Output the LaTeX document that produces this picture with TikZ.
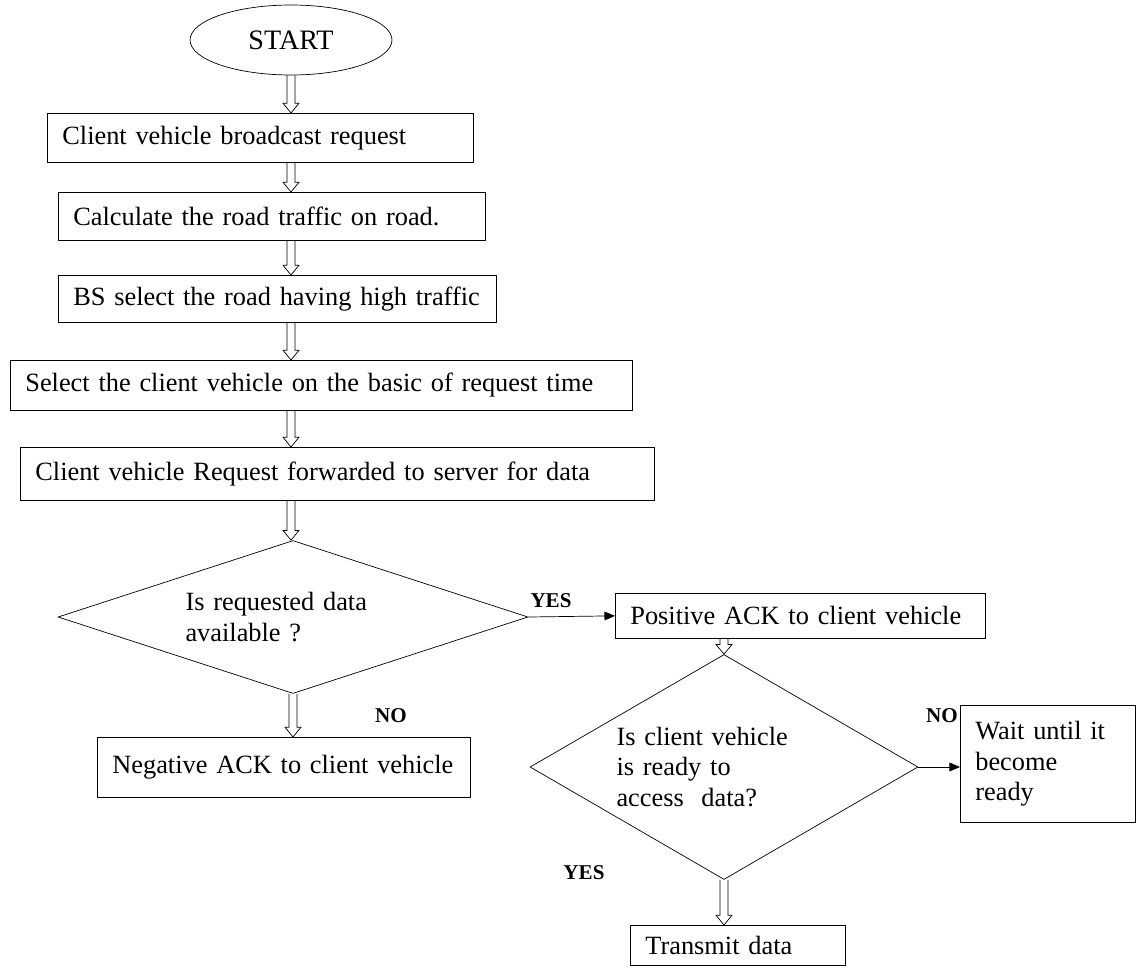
\documentclass[tikz,border=0pt]{standalone}
\usepackage{fontspec}
\setmainfont{Liberation Serif}
\usetikzlibrary{shapes.geometric,arrows.meta,calc}

\tikzset{
  box/.style={draw,rectangle,anchor=north west,inner xsep=0.3cm,align=left,
    font=\fontsize{15}{17.5}\selectfont},
  test/.style={draw,diamond,inner sep=0pt,align=left,
    font=\fontsize{15}{17.5}\selectfont},
  lbl/.style={font=\fontsize{12}{14}\selectfont\bfseries,inner sep=0pt},
  hollow/.style={to path={let \p1=(\tikztostart), \p2=(\tikztotarget) in
    (\x1-2.3pt,\y1) -- (\x1-2.3pt,\y2+5.5pt) -- (\x1-4.5pt,\y2+5.5pt) -- (\x1,\y2)
    -- (\x1+4.5pt,\y2+5.5pt) -- (\x1+2.3pt,\y2+5.5pt) -- (\x1+2.3pt,\y1)}},
  solid arrow/.style={-{Triangle[length=6pt,width=5pt]}}
}

\begin{document}
\begin{tikzpicture}[x=0.02cm,y=-0.02cm]
  \useasboundingbox (0,0) rectangle (1136,967);
  \node[draw,ellipse,minimum width=4.04cm,minimum height=1.4cm,font=\fontsize{16}{18}\selectfont] (start) at (291,40) {START};
  \node[box,text width=7.92cm,minimum height=0.98cm] (bcast) at (47,113) {Client vehicle broadcast request};
  \node[box,text width=7.94cm,minimum height=0.96cm] (traffic) at (58,192) {Calculate the road traffic on road.};
  \node[box,text width=8.16cm,minimum height=0.94cm] (high) at (58,275) {BS select the road having high traffic};
  \node[box,text width=11.84cm,minimum height=1.0cm] (reqtime) at (10,360) {Select the client vehicle on the basic of request time};
  \node[box,text width=12.08cm,minimum height=1.06cm] (forward) at (20,447) {Client vehicle Request forwarded to server for data};
  \node[test,aspect=3.07,text width=4.3cm,minimum width=9.4cm,minimum height=3.06cm] (avail) at (293,617) {Is requested data\\available ?};
  \node[box,text width=6.8cm,minimum height=0.9cm] (posack) at (615,593) {Positive ACK to client vehicle};
  \node[box,text width=6.86cm,minimum height=1.2cm] (negack) at (97,737) {Negative ACK to client vehicle};
  \node[test,aspect=1.72,text width=4.3cm,minimum width=7.76cm,minimum height=4.5cm] (ready) at (724,767) {Is client vehicle\\is ready to\\access \ data?};
  \node[box,text width=2.9cm,minimum height=2.34cm] (wait) at (960,705) {Wait until it\\become\\ready};
  \node[box,text width=3.7cm,minimum height=0.8cm] (transmit) at (630,925) {Transmit data};
  \node[lbl] (yes1) at (551,601) {YES};
  \node[lbl] (no1) at (391,716) {NO};
  \node[lbl] (no2) at (942,716) {NO};
  \node[lbl] (yes2) at (584,873) {YES};
  \draw (start.south) to[hollow] (bcast.north);
  \draw (start.south |- bcast.south) to[hollow] (traffic.north);
  \draw (start.south |- traffic.south) to[hollow] (high.north);
  \draw (start.south |- high.south) to[hollow] (reqtime.north);
  \draw (start.south |- reqtime.south) to[hollow] (forward.north);
  \draw (start.south |- forward.south) to[hollow] (avail.north);
  \draw (avail.south) to[hollow] (negack.north);
  \draw[solid arrow] (avail.east) -- (posack.west);
  \draw (posack.south -| ready.north) to[hollow] (ready.north);
  \draw[solid arrow] (ready.east) -- (ready.east -| wait.west);
  \draw (ready.south) to[hollow] (transmit.north);
\end{tikzpicture}
\end{document}
